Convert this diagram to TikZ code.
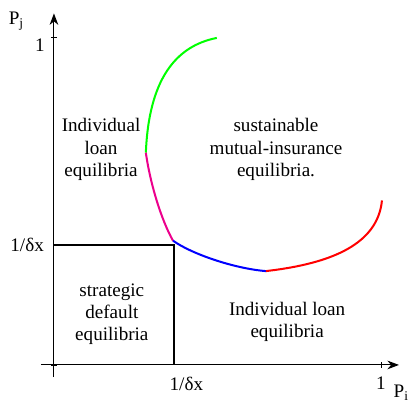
\documentclass[tikz,border=0pt]{standalone}
\usepackage{fontspec}
\setmainfont{Liberation Serif}
\usetikzlibrary{arrows.meta}
\newcommand{\dlim}{0.368}
\begin{document}
\begin{tikzpicture}[x=8cm,y=8cm,
          axis/.style={line width=0.7pt,-{Stealth[length=8pt,width=6pt,inset=2.5pt]}},
          tickmark/.style={line width=0.6pt},
          bound/.style={line width=1.4pt},
          curve/.style={line width=1.4pt,line join=round},
          lbl/.style={font=\fontsize{13.3}{15.6}\selectfont,align=center,inner sep=0pt}]
  \useasboundingbox (-0.165,-0.116) rectangle (1.101,1.116);
  % axes
  \coordinate (xs) at (-0.04,0);
  \coordinate (xe) at (1.055,0);
  \coordinate (ys) at (0,-0.037);
  \coordinate (ye) at (0,1.075);
  \draw[axis] (xs) -- (xe);
  \draw[axis] (ys) -- (ye);
  \draw[tickmark] (-0.009,1) -- (0.009,1);
  \draw[tickmark] (-0.009,0) -- (0.009,0);
  \draw[tickmark] (1,-0.009) -- (1,0.009);
  \node[lbl] (pj) at (-0.115,1.052) {P\textsubscript{j}};
  \node[lbl] (pi) at (1.062,-0.086) {P\textsubscript{i}};
  \node[lbl] (one y) at (-0.043,0.978) {1};
  \node[lbl] (one x) at (1.0,-0.056) {1};
  \node[lbl] (dy) at (-0.082,\dlim) {1/δx};
  \node[lbl] (dx) at (0.405,-0.058) {1/δx};
  % strategic default region
  \coordinate (D) at (\dlim,\dlim);
  \draw[bound] (0,\dlim) -- (D) -- (\dlim,0);
  % equilibrium frontier
  \coordinate (g0) at (0.281,0.649);
  \coordinate (g1) at (0.498,1.0);
  \coordinate (b0) at (0.364,0.380);
  \coordinate (r0) at (0.648,0.287);
  \coordinate (r1) at (1.003,0.503);
  \draw[curve,green] (g0) .. controls (0.29,0.87) and (0.37,0.975) .. (g1);
  \draw[curve,magenta] (g0) .. controls (0.295,0.55) and (0.33,0.44) .. (b0);
  \draw[curve,blue] (b0) .. controls (0.42,0.34) and (0.55,0.295) .. (r0);
  \draw[curve,red] (r0) .. controls (0.85,0.31) and (0.99,0.37) .. (r1);
  % region labels
  \node[lbl] (indiv top) at (0.144,0.659) {Individual\\loan\\equilibria};
  \node[lbl] (mutual) at (0.679,0.659) {sustainable\\mutual-insurance\\equilibria.};
  \node[lbl] (strategic) at (0.177,0.155) {strategic\\default\\equilibria};
  \node[lbl] (indiv low) at (0.713,0.131) {Individual loan\\equilibria};
\end{tikzpicture}
\end{document}
